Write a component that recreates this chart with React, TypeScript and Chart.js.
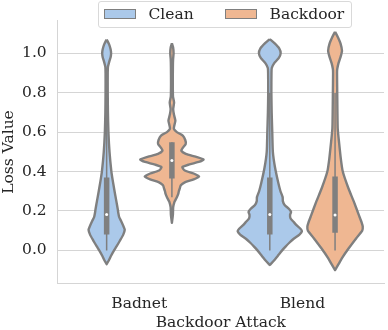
import React, { useEffect, useRef } from 'react';
import { Chart, registerables } from 'chart.js';

Chart.register(...registerables);

const categories = ['Badnet', 'Blend'];
const seriesNames = ['Clean', 'Backdoor'];
const seriesColors = ['#abc9ea', '#efb792'];
const yTicks = [0, 0.2, 0.4, 0.6, 0.8, 1.0];

// Kernel density profiles (loss value, relative density)
const cleanBadnetY = [1.07, 1.045, 1.02, 1.0, 0.98, 0.955, 0.93, 0.9, 0.8, 0.7, 0.6, 0.5, 0.4, 0.35, 0.3, 0.25, 0.21, 0.19, 0.17, 0.15, 0.12, 0.105, 0.08, 0.05, 0.02, 0.0, -0.03, -0.05, -0.07];
const cleanBadnetD = [0, 2.5, 4, 4.5, 4, 2.5, 1.3, 1.1, 1.1, 1.3, 1.8, 2.9, 4.8, 6.3, 8, 9.8, 11.2, 11.8, 12.6, 14.5, 17.2, 18.3, 16.8, 13.5, 10, 7.5, 4.2, 2.3, 0];

const backdoorBadnetY = [1.05, 1.03, 1.0, 0.97, 0.93, 0.85, 0.78, 0.75, 0.717, 0.69, 0.658, 0.635, 0.616, 0.6, 0.582, 0.56, 0.54, 0.52, 0.506, 0.49, 0.475, 0.461, 0.45, 0.435, 0.422, 0.405, 0.39, 0.375, 0.36, 0.345, 0.33, 0.315, 0.3, 0.288, 0.27, 0.255, 0.245, 0.22, 0.18, 0.14];
const backdoorBadnetD = [0, 1.2, 1.7, 1.2, 1, 0.9, 1.1, 2.2, 1.3, 2, 3.5, 2.5, 2, 5, 11, 13.5, 14, 11, 9.5, 14, 24, 32, 28, 17, 10.5, 13, 22, 27.5, 22, 13, 9, 8, 7, 6.5, 5, 3.5, 2.5, 1.3, 1, 0];

const cleanBlendY = [1.072, 1.05, 1.025, 1.0, 0.975, 0.95, 0.925, 0.9, 0.8, 0.7, 0.6, 0.5, 0.42, 0.34, 0.3, 0.27, 0.25, 0.23, 0.21, 0.195, 0.18, 0.162, 0.145, 0.128, 0.11, 0.097, 0.08, 0.06, 0.04, 0.018, 0.0, -0.024, -0.05, -0.074];
const cleanBlendD = [0, 5, 9.5, 11, 9, 4.5, 2, 1.7, 1.6, 1.9, 2.5, 3.1, 5.3, 8.7, 10.8, 13, 13.2, 15, 19.5, 21.5, 20.5, 21, 24, 27, 31, 32.5, 30, 24.5, 20, 15.7, 12.5, 8.7, 4.5, 0];

const backdoorBlendY = [1.109, 1.08, 1.05, 1.013, 0.98, 0.95, 0.92, 0.9, 0.8, 0.7, 0.618, 0.55, 0.466, 0.4, 0.315, 0.247, 0.18, 0.14, 0.121, 0.1, 0.062, 0.012, -0.039, -0.07, -0.1];
const backdoorBlendD = [0, 3, 5.5, 7, 5.5, 3.5, 2.2, 2, 2.2, 2.4, 2.7, 4, 5.8, 7.8, 13.5, 19, 24, 27, 28, 27.5, 21.5, 14, 7, 3.5, 0];

// Inner box statistics: [lower whisker, q1, median, q3, upper whisker]
const cleanBadnetBox = [0.0, 0.08, 0.182, 0.37, 0.8];
const backdoorBadnetBox = [0.27, 0.364, 0.456, 0.548, 0.548];
const cleanBlendBox = [0.0, 0.08, 0.182, 0.37, 0.8];
const backdoorBlendBox = [0.0, 0.09, 0.18, 0.375, 0.8];

const FONT = { family: "'DejaVu Serif', serif", size: 15.5 };
const TEXT = '#262626';
const EDGE = '#7f7f7f';
const GRID = '#d5d5d5';

export default function App() {
  const ref = useRef<HTMLCanvasElement | null>(null);

  useEffect(() => {
    if (!ref.current) return;
    const maxD = 33;
    const halfSpan = 0.2;
    const violins = [
      { cat: 0, hue: 0, y: cleanBadnetY, d: cleanBadnetD, box: cleanBadnetBox },
      { cat: 0, hue: 1, y: backdoorBadnetY, d: backdoorBadnetD, box: backdoorBadnetBox },
      { cat: 1, hue: 0, y: cleanBlendY, d: cleanBlendD, box: cleanBlendBox },
      { cat: 1, hue: 1, y: backdoorBlendY, d: backdoorBlendD, box: backdoorBlendBox },
    ];
    const datasets: any[] = [];
    violins.forEach((v) => {
      const c = v.cat + (v.hue === 0 ? -0.2 : 0.2);
      const pts: { x: number; y: number }[] = [];
      for (let i = 0; i < v.y.length; i++) pts.push({ x: c + (v.d[i] / maxD) * halfSpan, y: v.y[i] });
      for (let i = v.y.length - 1; i >= 0; i--) pts.push({ x: c - (v.d[i] / maxD) * halfSpan, y: v.y[i] });
      datasets.push({
        label: seriesNames[v.hue],
        data: pts,
        showLine: true,
        fill: 'shape',
        backgroundColor: seriesColors[v.hue],
        borderColor: EDGE,
        borderWidth: 2.4,
        borderJoinStyle: 'round',
        pointRadius: 0,
        tension: 0.2,
        order: 3,
      });
      datasets.push({
        data: [{ x: c, y: v.box[0] }, { x: c, y: v.box[4] }],
        showLine: true,
        borderColor: EDGE,
        borderWidth: 1.5,
        pointRadius: 0,
        fill: false,
        order: 2,
      });
      datasets.push({
        data: [{ x: c, y: v.box[1] }, { x: c, y: v.box[3] }],
        showLine: true,
        borderColor: EDGE,
        borderWidth: 5.5,
        borderCapStyle: 'butt',
        pointRadius: 0,
        fill: false,
        order: 1,
      });
      datasets.push({
        data: [{ x: c, y: v.box[2] }],
        showLine: false,
        pointRadius: 1.5,
        pointBackgroundColor: '#ffffff',
        pointBorderWidth: 0,
        order: 0,
      });
    });

    const chart = new Chart(ref.current, {
      type: 'scatter',
      data: { datasets },
      options: {
        animation: false,
        responsive: true,
        maintainAspectRatio: false,
        layout: { padding: { top: 19.3, right: 1, left: 0, bottom: 0 } },
        plugins: { legend: { display: false }, tooltip: { enabled: false } },
        scales: {
          x: {
            type: 'linear',
            min: -0.5,
            max: 1.5,
            afterBuildTicks: (s: any) => {
              s.ticks = categories.map((_, i) => ({ value: i }));
            },
            afterFit: (s: any) => {
              s.height = 46.3;
            },
            ticks: {
              callback: (v: any) => categories[Math.round(Number(v))],
              font: FONT,
              color: TEXT,
              padding: 10.5,
              autoSkip: false,
              maxRotation: 0,
            },
            grid: { display: false, drawTicks: false },
            border: { display: true, color: GRID, width: 1 },
            title: { display: true, text: 'Backdoor Attack', font: FONT, color: TEXT, padding: { top: 0, bottom: -2.5 } },
          },
          y: {
            type: 'linear',
            min: -0.169,
            max: 1.167,
            afterBuildTicks: (s: any) => {
              s.ticks = yTicks.map((v) => ({ value: v }));
            },
            afterFit: (s: any) => {
              s.width = 57.7;
            },
            ticks: {
              callback: (v: any) => Number(v).toFixed(1),
              font: FONT,
              color: TEXT,
              padding: 11,
            },
            grid: { color: GRID, lineWidth: 1, drawTicks: false },
            border: { display: true, color: GRID, width: 1 },
            title: { display: true, text: 'Loss Value', font: FONT, color: TEXT, padding: { top: 0, bottom: 0 } },
          },
        },
      },
    });
    return () => chart.destroy();
  }, []);

  return (
    <div style={{ position: 'fixed', left: 0, top: 0, width: 388, height: 330, background: '#fff' }}>
      <canvas ref={ref} />
      <div
        style={{
          position: 'absolute',
          left: 97.5,
          top: 0.5,
          width: 254,
          height: 27.5,
          boxSizing: 'border-box',
          border: '1px solid #d9d9d9',
          borderRadius: 3,
          background: 'rgba(255,255,255,0.85)',
        }}
      />
      {seriesNames.map((name, i) => (
        <React.Fragment key={name}>
          <div
            style={{
              position: 'absolute',
              left: 104 + i * 121,
              top: 9.3,
              width: 32,
              height: 10,
              boxSizing: 'border-box',
              border: '1.3px solid ' + EDGE,
              background: seriesColors[i],
            }}
          />
          <div
            style={{
              position: 'absolute',
              left: 148.5 + i * 121,
              top: 0,
              height: 28,
              lineHeight: '28px',
              fontFamily: "'DejaVu Serif', serif",
              fontSize: 15.5,
              color: TEXT,
              whiteSpace: 'nowrap',
            }}
          >
            {name}
          </div>
        </React.Fragment>
      ))}
    </div>
  );
}
